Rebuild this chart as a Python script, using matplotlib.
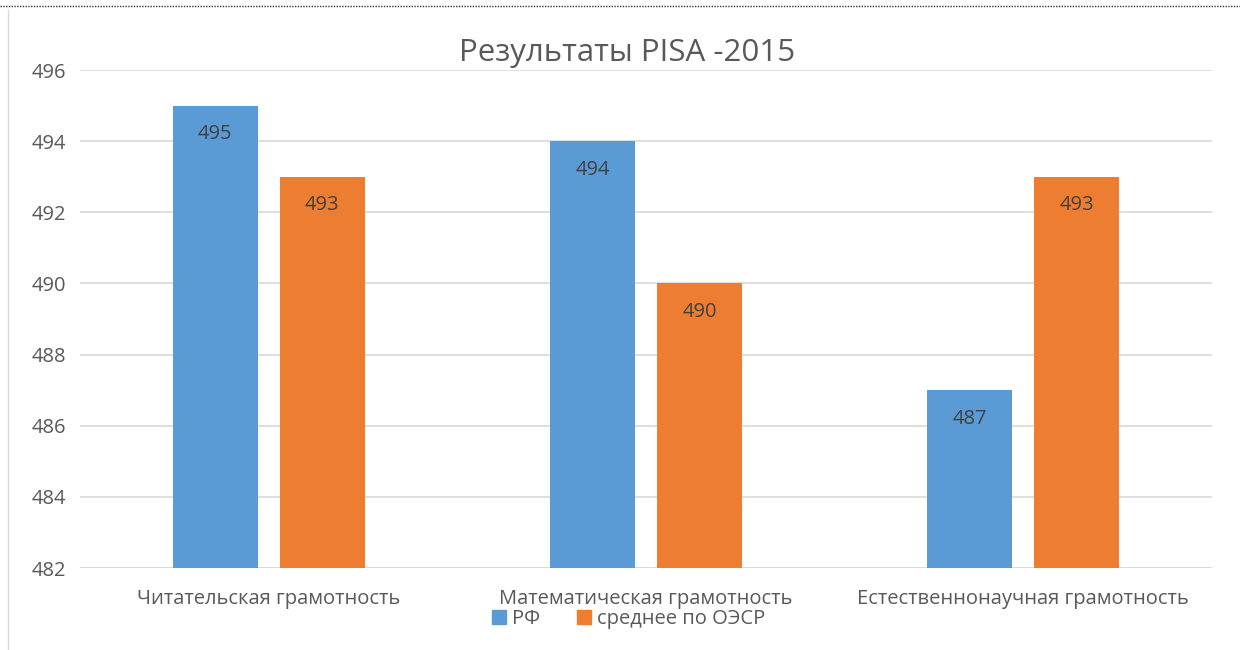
import matplotlib
matplotlib.use('Agg')
import matplotlib.pyplot as plt
from matplotlib.lines import Line2D
from matplotlib.patches import Patch
import numpy as np

plt.rcParams['font.family'] = ['Open Sans', 'DejaVu Sans']

categories = ['Читательская грамотность', 'Математическая грамотность', 'Естественнонаучная грамотность']
rf = [495, 494, 487]
oecd = [493, 490, 493]
series_names = ['РФ', 'среднее по ОЭСР']
yticks = [482, 484, 486, 488, 490, 492, 494, 496]

blue = '#5B9BD5'
orange = '#ED7D31'
grey_text = '#595959'

fig = plt.figure(figsize=(12.4, 6.5), dpi=100)
ax = fig.add_axes([80 / 1240, 1 - 568 / 650, 1132 / 1240, 498 / 650])

x = np.arange(len(categories))
w = 0.225
off = 0.142
b1 = ax.bar(x - off, [v - 482 for v in rf], w, bottom=482, color=blue, zorder=3)
b2 = ax.bar(x + off, [v - 482 for v in oecd], w, bottom=482, color=orange, zorder=3)

for bars, vals in ((b1, rf), (b2, oecd)):
    for r, v in zip(bars, vals):
        ax.text(r.get_x() + r.get_width() / 2, v - 0.8, str(v), ha='center', va='center',
                fontsize=14.5, color='#404040', zorder=4)

ax.set_xlim(-0.5, 2.5)
ax.set_ylim(482, 496)
ax.set_yticks(yticks)
ax.set_xticks(x)
ax.set_xticklabels(categories)
ax.tick_params(axis='both', length=0, labelsize=14.5, colors=grey_text)
ax.tick_params(axis='x', pad=15)
ax.tick_params(axis='y', pad=10)
ax.grid(axis='y', color='#D9D9D9', linewidth=1.2, zorder=0)
for s in ax.spines.values():
    s.set_visible(False)
ax.axhline(482, color='#D9D9D9', linewidth=1.2, zorder=2)

fig.text(0.506, 1 - 53 / 650, 'Результаты PISA -2015', ha='center', va='center',
         fontsize=22.5, color=grey_text)

handles = [Patch(color=blue), Patch(color=orange)]
fig.legend(handles, series_names, loc='center', bbox_to_anchor=(0.507, 1 - 619 / 650),
           ncol=2, frameon=False, fontsize=14.5, labelcolor=grey_text,
           handlelength=0.7, handleheight=0.7, handletextpad=0.3, columnspacing=1.8,
           borderpad=0)

# рамка документа
fig.add_artist(Line2D([0, 1], [1 - 6 / 650, 1 - 6 / 650], color='#333333',
                      linestyle=(0, (1, 1)), linewidth=1))
fig.add_artist(Line2D([8 / 1240, 8 / 1240], [0, 1 - 10 / 650], color='#D9D9D9', linewidth=1))

fig.savefig('out.png', dpi=100, facecolor='white')
